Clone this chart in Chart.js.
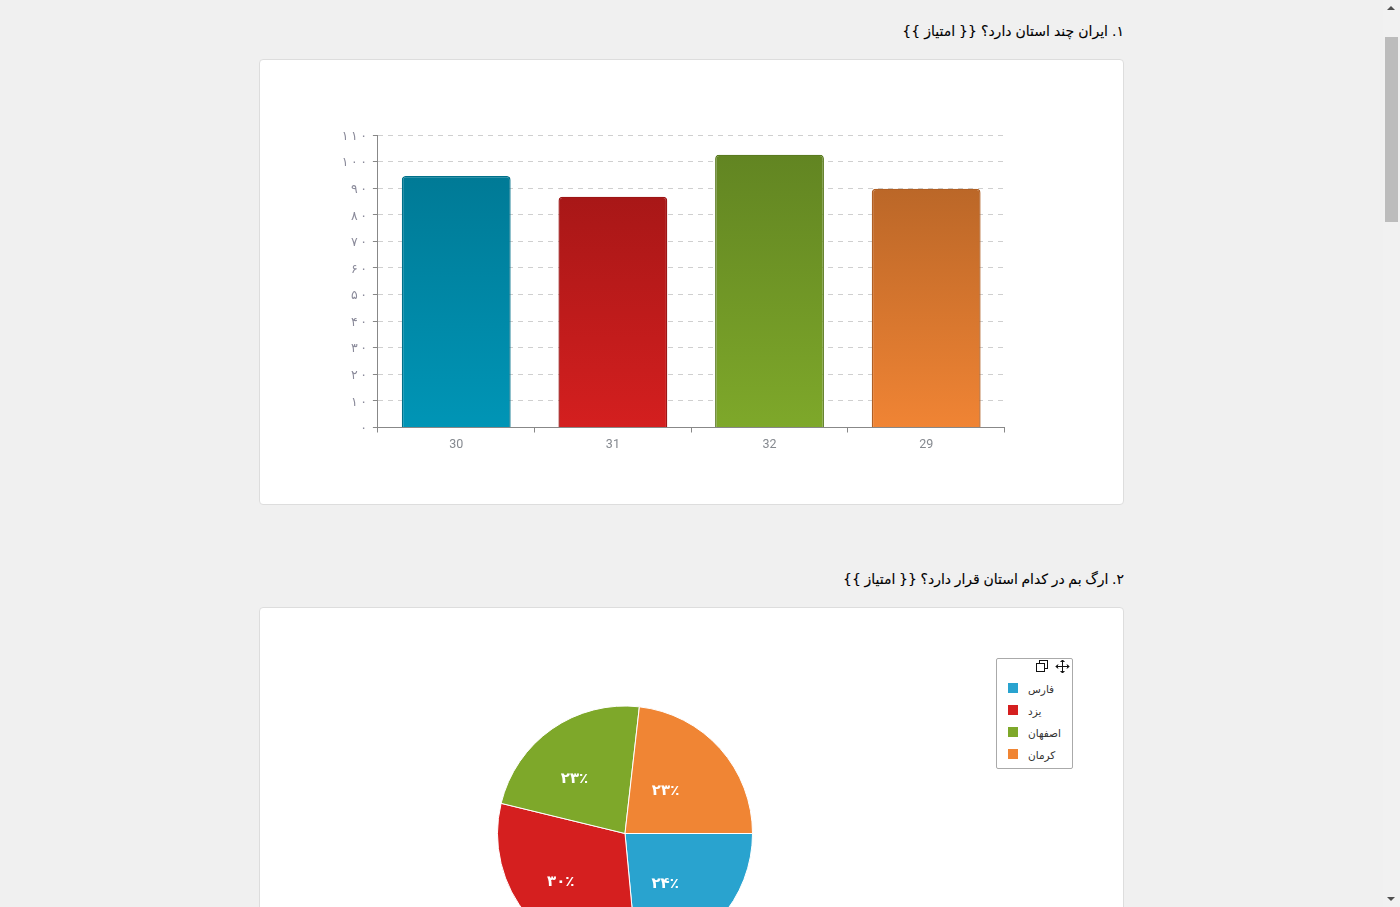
<!DOCTYPE html>
<html lang="fa">
<head>
<meta charset="utf-8">
<title>نتایج آزمون</title>
<script src="https://cdn.jsdelivr.net/npm/chart.js@4"></script>
<style>
  html, body { margin: 0; height: 100%; overflow: hidden; background: #f0f0f0; font-family: "DejaVu Sans", sans-serif; }
  .question { position: absolute; right: 276px; margin: 0; font-size: 14px; font-weight: normal; color: #000; direction: rtl; white-space: nowrap; -webkit-text-stroke: 0.1px #000; }
  .card { position: absolute; left: 259px; width: 863px; background: #fff; border: 1px solid #ddd; border-radius: 4px; }
  canvas { position: absolute; }
  #legendBox { position: absolute; left: 996px; top: 658px; width: 75px; height: 109px; background: #fff; border: 1px solid #aaa; border-radius: 2px; font-size: 10.5px; color: #333; }
  #legendBox svg { position: absolute; top: 0; }
  .legend-row { position: absolute; left: 11px; height: 10px; line-height: 10px; direction: rtl; }
  .legend-row i { position: absolute; left: 0; top: 0; width: 10px; height: 10px; }
  .legend-row span { position: absolute; left: 20px; top: 1px; white-space: nowrap; }
  #scrollTrack { position: absolute; left: 1383px; top: 0; width: 17px; height: 907px; background: #f1f1f1; }
  #scrollThumb { position: absolute; left: 2px; top: 37px; width: 13px; height: 185px; background: #bcbcbc; }
  .arrow { position: absolute; left: 4px; width: 0; height: 0; border-left: 4px solid transparent; border-right: 4px solid transparent; }
  #arrowUp { top: 6px; border-bottom: 4px solid #505050; }
  #arrowDown { bottom: 6px; border-top: 4px solid #505050; }
</style>
</head>
<body>
<h3 class="question" style="top:23px;word-spacing:-0.4px">۱. ایران چند استان دارد؟ {{ امتیاز }}</h3>
<div class="card" style="top:59px;height:444px"></div>
<canvas id="barChart" width="863" height="444" style="left:260px;top:60px"></canvas>

<h3 class="question" style="top:571px;word-spacing:-0.8px">۲. ارگ بم در کدام استان قرار دارد؟ {{ امتیاز }}</h3>
<div class="card" style="top:607px;height:500px"></div>
<canvas id="pieChart" width="730" height="451" style="left:260px;top:608px"></canvas>

<div id="legendBox">
  <svg style="left:38px" width="14" height="14" viewBox="0 0 14 14" fill="none" stroke="#111"><rect x="4.5" y="1.5" width="8" height="8"/><rect x="1.5" y="4.5" width="8" height="8" fill="#fff"/></svg>
  <svg style="left:58px" width="15" height="15" viewBox="0 0 15 15" fill="none" stroke="#111"><path d="M7.5 1v13M1 7.5h13"/><path d="M5.5 3l2-2 2 2M5.5 12l2 2 2-2M3 5.5l-2 2 2 2M12 5.5l2 2-2 2" fill="#111"/></svg>
</div>

<div id="scrollTrack"><div class="arrow" id="arrowUp"></div><div id="scrollThumb"></div><div class="arrow" id="arrowDown"></div></div>

<script>
// bar chart data
const barLabels = ['30', '31', '32', '29'];
const barValues = [94.6, 86.8, 102.6, 89.8];
const yTickLabels = ['۰', '۱\u2009۰', '۲\u2009۰', '۳\u2009۰', '۴\u2009۰', '۵\u2009۰', '۶\u2009۰', '۷\u2009۰', '۸\u2009۰', '۹\u2009۰', '۱\u2009۰\u2009۰', '۱\u2009۱\u2009۰'];
const barTopColors = ['#007a96', '#a81717', '#628522', '#bb6728'];
const barBottomColors = ['#0095b6', '#d41f1f', '#7ea82a', '#f08434'];
const barBorderColors = ['#00708a', '#9c1515', '#5a7a1f', '#b05f24'];

// pie chart data
const pieLabels = ['فارس', 'یزد', 'اصفهان', 'کرمان'];
const pieValues = [23.5, 30.3, 23, 23.2];
const pieTexts = ['۲۴٪', '۳۰٪', '۲۳٪', '۲۳٪'];
const pieColors = ['#29a3cf', '#d51f1f', '#7ea82a', '#f08534'];

Chart.defaults.animation = false;

function barGradient(ctx) {
  const chart = ctx.chart;
  const i = ctx.dataIndex || 0;
  const y = chart.scales.y;
  const top = y ? y.getPixelForValue(barValues[i]) : NaN;
  const bottom = y ? y.getPixelForValue(0) : NaN;
  if (!Number.isFinite(top) || !Number.isFinite(bottom)) return barBottomColors[i];
  const g = chart.ctx.createLinearGradient(0, top, 0, bottom);
  g.addColorStop(0, barTopColors[i]);
  g.addColorStop(1, barBottomColors[i]);
  return g;
}

new Chart(document.getElementById('barChart'), {
  type: 'bar',
  data: {
    labels: barLabels,
    datasets: [{
      data: barValues,
      backgroundColor: barGradient,
      borderColor: barBorderColors,
      borderWidth: 1.4,
      borderRadius: { topLeft: 4, topRight: 4 },
      barPercentage: 0.695,
      categoryPercentage: 1
    }]
  },
  options: {
    responsive: false,
    layout: { padding: { top: 75, right: 118.5 } },
    plugins: { legend: { display: false }, tooltip: { enabled: false } },
    scales: {
      x: {
        afterFit: s => { s.height = 76.5; },
        border: { color: '#888' },
        grid: { drawOnChartArea: false, tickLength: 5, tickColor: '#888', offset: true },
        ticks: { color: '#85898f', font: { family: 'Roboto', size: 12.5 }, padding: 5 }
      },
      y: {
        min: 0,
        max: 110,
        afterFit: s => { s.width = 117.9; },
        grid: { color: '#cfcfcf', tickColor: '#888', tickLength: 5, tickBorderDash: [] },
        border: { color: '#888', dash: [5, 5] },
        ticks: {
          stepSize: 10,
          color: '#8a8a9a',
          font: { family: '"DejaVu Sans"', size: 12.5 },
          padding: 6,
          labelOffset: 1.5,
          callback: (v, i) => yTickLabels[i]
        }
      }
    }
  }
});

// white percent labels on the slices, moved a little from the middle of each arc
const pieNudge = [[-7, 8], [-16, 7], [-14, -2], [-7, 0]];
const pieTextPlugin = {
  id: 'pieText',
  afterDatasetsDraw(chart) {
    const c = chart.ctx;
    c.save();
    c.font = 'bold 15px "DejaVu Sans"';
    c.fillStyle = '#fff';
    c.textAlign = 'center';
    c.textBaseline = 'middle';
    chart.getDatasetMeta(0).data.forEach((arc, i) => {
      const mid = (arc.startAngle + arc.endAngle) / 2;
      const r = arc.outerRadius * 0.5;
      c.fillText(pieTexts[i], arc.x + Math.cos(mid) * r + pieNudge[i][0], arc.y + Math.sin(mid) * r + pieNudge[i][1]);
    });
    c.restore();
  }
};

new Chart(document.getElementById('pieChart'), {
  type: 'pie',
  data: {
    labels: pieLabels,
    datasets: [{ data: pieValues, backgroundColor: pieColors, borderColor: '#fff', borderWidth: 1 }]
  },
  options: {
    responsive: false,
    rotation: 90,
    layout: { padding: 97.5 },
    plugins: { legend: { display: false }, tooltip: { enabled: false } }
  },
  plugins: [pieTextPlugin]
});

// legend box
const legendBox = document.getElementById('legendBox');
pieLabels.forEach((name, i) => {
  const row = document.createElement('div');
  row.className = 'legend-row';
  row.style.top = (24 + i * 22) + 'px';
  row.innerHTML = `<i style="background:${pieColors[i]}"></i><span>${name}</span>`;
  legendBox.appendChild(row);
});
</script>
</body>
</html>
